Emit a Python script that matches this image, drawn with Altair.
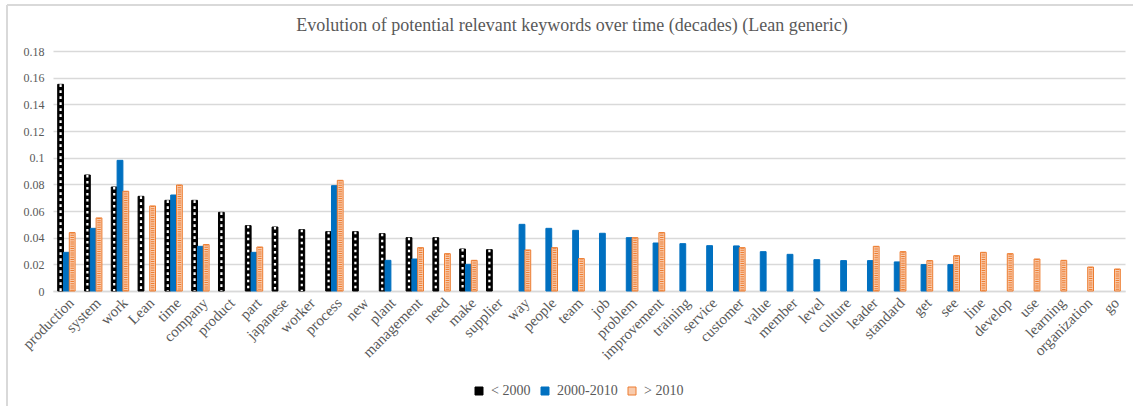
import altair as alt
import pandas as pd

# Keyword frequencies per period (share of all tokens)
keywords = [
    "production", "system", "work", "Lean", "time", "company", "product", "part",
    "japanese", "worker", "process", "new", "plant", "management", "need", "make",
    "supplier", "way", "people", "team", "job", "problem", "improvement", "training",
    "service", "customer", "value", "member", "level", "culture", "leader", "standard",
    "get", "see", "line", "develop", "use", "learning", "organization", "go",
]
periods = ["< 2000", "2000-2010", "> 2010"]

before_2000 = [
    0.155, 0.087, 0.078, 0.071, 0.068, 0.068, 0.059, 0.049,
    0.048, 0.046, 0.0445, 0.0445, 0.043, 0.040, 0.040, 0.0315,
    0.031, None, None, None, None, None, None, None,
    None, None, None, None, None, None, None, None,
    None, None, None, None, None, None, None, None,
]
between_2000_2010 = [
    0.029, 0.047, 0.098, None, 0.072, 0.0335, None, 0.029,
    None, None, 0.079, None, 0.023, 0.024, None, 0.020,
    None, 0.050, 0.047, 0.0455, 0.0433, 0.040, 0.036, 0.0355,
    0.034, 0.0338, 0.0295, 0.0275, 0.0235, 0.0228, 0.0228, 0.0218,
    0.0198, 0.0198, None, None, None, None, None, None,
]
after_2010 = [
    0.0438, 0.0548, 0.0748, 0.0638, 0.0795, 0.0348, None, 0.033,
    None, None, 0.083, None, None, 0.0325, 0.028, 0.023,
    None, 0.0308, 0.0325, 0.0243, None, 0.040, 0.0438, None,
    None, 0.0325, None, None, None, None, 0.0335, 0.0295,
    0.0228, 0.0265, 0.029, 0.028, 0.024, 0.023, 0.018, 0.0165,
]
y_ticks = [0, 0.02, 0.04, 0.06, 0.08, 0.1, 0.12, 0.14, 0.16, 0.18]

rows = []
for series, values in zip(periods, [before_2000, between_2000_2010, after_2010]):
    for kw, v in zip(keywords, values):
        if v is not None:
            rows.append({"keyword": kw, "period": series, "value": v})
df = pd.DataFrame(rows)

SERIF = "Times New Roman, Liberation Serif, serif"
GRID = "#d9d9d9"
TEXT = "#595959"

x_enc = alt.X(
    "keyword:N",
    sort=keywords,
    title=None,
    scale=alt.Scale(paddingInner=0.35, paddingOuter=0.175),
    axis=alt.Axis(
        labelAngle=-45,
        labelFont=SERIF,
        labelFontSize=15,
        labelColor=TEXT,
        labelPadding=4,
        ticks=False,
        tickSize=0,
        domainColor=GRID,
        domainWidth=1.3,
        grid=False,
    ),
)
xoff_enc = alt.XOffset(
    "period:N",
    sort=periods,
    scale=alt.Scale(domain=periods, paddingInner=0, paddingOuter=0),
)
y_enc = alt.Y(
    "value:Q",
    title=None,
    scale=alt.Scale(domain=[0, 0.18], nice=False),
    axis=alt.Axis(
        values=y_ticks,
        format="~g",
        labelFont=SERIF,
        labelFontSize=12,
        labelColor=TEXT,
        labelPadding=9,
        labelOverlap=False,
        labelFlush=False,
        ticks=False,
        tickSize=0,
        domain=False,
        gridColor=GRID,
        gridWidth=1.3,
    ),
)

bars = alt.Chart(df).mark_bar(strokeWidth=1).encode(
    x=x_enc,
    xOffset=xoff_enc,
    y=y_enc,
    fill=alt.Fill(
        "period:N",
        sort=periods,
        title=None,
        scale=alt.Scale(domain=periods, range=["#000000", "#0070c0", "#f8cbad"]),
        legend=alt.Legend(labelFont=SERIF),
    ),
    stroke=alt.Stroke(
        "period:N",
        sort=periods,
        title=None,
        scale=alt.Scale(domain=periods, range=["#000000", "#0070c0", "#ed7d31"]),
        legend=alt.Legend(labelFont=SERIF),
    ),
)

# checkered look for the earliest period: white dashes down the middle of the black bars
checker = alt.Chart(df).transform_filter(
    alt.datum.period == "< 2000"
).mark_rule(color="white", strokeWidth=2.2, strokeDash=[2.6, 3.4]).encode(
    x=x_enc,
    xOffset=xoff_enc,
    y=y_enc,
    y2=alt.datum(0),
)

# horizontal stripes for the latest period
stripes = alt.Chart(df).transform_filter(
    alt.datum.period == "> 2010"
).mark_rule(color="#ed7d31", strokeWidth=3.5, strokeDash=[1, 1.2]).encode(
    x=x_enc,
    xOffset=xoff_enc,
    y=y_enc,
    y2=alt.datum(0),
)

# outer frame of the chart area
frame_top = alt.Chart(df).mark_rule(color=GRID, strokeWidth=1.3).encode(
    x=alt.value(-46), x2=alt.value(1090), y=alt.value(-46)
)
frame_left = alt.Chart(df).mark_rule(color=GRID, strokeWidth=1.3).encode(
    x=alt.value(-46), y=alt.value(-46), y2=alt.value(360)
)

chart = alt.layer(bars, checker, stripes, frame_top, frame_left).resolve_scale(
    fill="shared", stroke="shared"
).properties(
    width=1072,
    height=240,
    autosize=alt.AutoSizeParams(type="none"),
    padding={"left": 53, "top": 51, "right": 8, "bottom": 115},
    title=alt.TitleParams(
        "Evolution of potential relevant keywords over time (decades) (Lean generic)",
        font=SERIF,
        fontSize=18,
        fontWeight="normal",
        color=TEXT,
        anchor="middle",
        offset=-31,
        dx=-17,
    ),
).configure(font=SERIF).configure_view(stroke=None).configure_legend(
    orient="none",
    legendX=419,
    legendY=333,
    direction="horizontal",
    symbolType="square",
    symbolSize=64,
    symbolStrokeWidth=1,
    labelFont=SERIF,
    labelFontSize=14,
    labelColor=TEXT,
    columnPadding=7,
    labelOffset=5,
)

chart.save("out.html", embed_options={"renderer": "svg", "actions": False})
